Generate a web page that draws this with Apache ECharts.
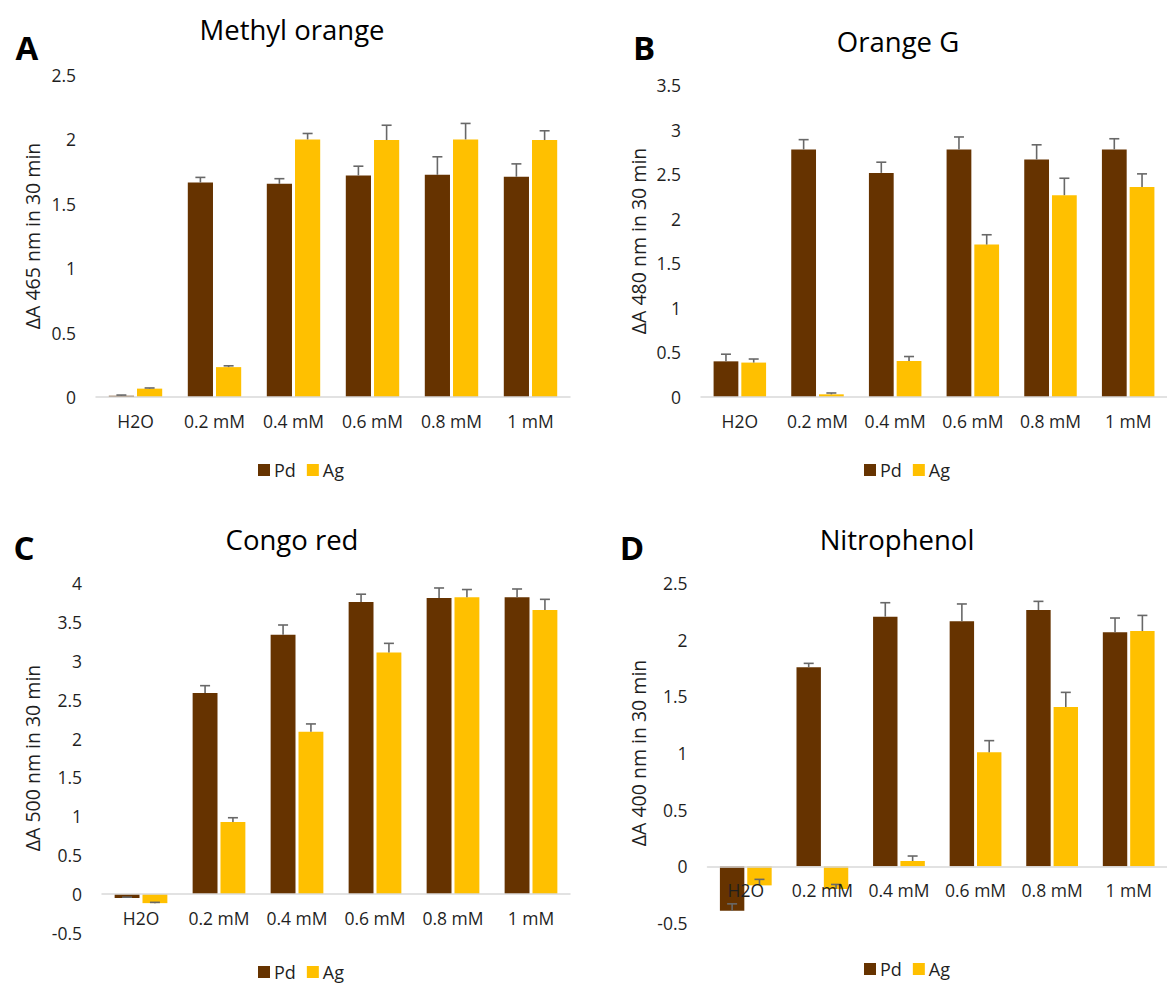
<!DOCTYPE html>
<html>
<head>
<meta charset="utf-8">
<script src="https://cdn.jsdelivr.net/npm/echarts@6/dist/echarts.min.js"></script>
<style>
html,body{margin:0;padding:0;background:#fff;}
#c{width:1167px;height:985px;}
</style>
</head>
<body>
<div id="c"></div>
<script>
// ---- data ----
const categories = ['H2O', '0.2 mM', '0.4 mM', '0.6 mM', '0.8 mM', '1 mM'];
const seriesNames = ['Pd', 'Ag'];

// A: Methyl orange
const moPd = [0.01, 1.665, 1.655, 1.72, 1.725, 1.71];
const moPdErr = [0.005, 0.04, 0.04, 0.072, 0.14, 0.10];
const moAg = [0.065, 0.232, 2.0, 1.995, 2.0, 1.995];
const moAgErr = [0.005, 0.01, 0.046, 0.115, 0.124, 0.072];

// B: Orange G
const ogPd = [0.40, 2.777, 2.514, 2.777, 2.664, 2.777];
const ogPdErr = [0.08, 0.11, 0.12, 0.14, 0.165, 0.12];
const ogAg = [0.386, 0.03, 0.404, 1.71, 2.264, 2.357];
const ogAgErr = [0.04, 0.015, 0.05, 0.11, 0.19, 0.146];

// C: Congo red
const crPd = [-0.05, 2.585, 3.335, 3.756, 3.807, 3.816];
const crPdErr = [0.01, 0.095, 0.125, 0.10, 0.129, 0.107];
const crAg = [-0.116, 0.926, 2.088, 3.108, 3.816, 3.653];
const crAgErr = [0.01, 0.056, 0.10, 0.116, 0.10, 0.137];

// D: Nitrophenol
const npPd = [-0.391, 1.756, 2.203, 2.162, 2.262, 2.065];
const npPdErr = [0.06, 0.035, 0.123, 0.153, 0.076, 0.126];
const npAg = [-0.168, -0.2, 0.047, 1.006, 1.406, 2.076];
const npAgErr = [0.053, 0.04, 0.044, 0.103, 0.129, 0.138];

const titles = ['Methyl orange', 'Orange G', 'Congo red', 'Nitrophenol'];
const letters = ['A', 'B', 'C', 'D'];
const yNames = ['ΔA 465 nm in 30 min', 'ΔA 480 nm in 30 min', 'ΔA 500 nm in 30 min', 'ΔA 400 nm in 30 min'];
const yMin = [0, 0, -0.5, -0.5];
const yMax = [2.5, 3.5, 4, 2.5];
const yStep = 0.5;

const panels = [
  {pd: moPd, pdE: moPdErr, ag: moAg, agE: moAgErr},
  {pd: ogPd, pdE: ogPdErr, ag: ogAg, agE: ogAgErr},
  {pd: crPd, pdE: crPdErr, ag: crAg, agE: crAgErr},
  {pd: npPd, pdE: npPdErr, ag: npAg, agE: npAgErr}
];

// ---- layout / style ----
const FONT = '"Open Sans", "DejaVu Sans", sans-serif';
const TXT = '#1f1f1f';
const colors = ['#663300', '#FFC000'];
const catGap = 0.324, barGap = 0.12;
const grids = [
  {left: 96, width: 474, top: 75, height: 322},
  {left: 701, width: 475, top: 85, height: 312},
  {left: 102, width: 468, top: 583, height: 350},
  {left: 707.5, width: 468.5, top: 583, height: 340}
];
const titlePos = [[292, 29], [898, 41], [292, 539], [897, 539]];
const letterPos = [[27, 47], [644, 47], [24, 547], [632, 547]];
const legendPos = [[253, 467], [859, 467], [253, 969], [859, 966]];
const nameGaps = [54, 53, 60, 59];

function errRender(seriesIdx) {
  return function (params, api) {
    const idx = api.value(0);
    const v = api.value(1);
    const e = api.value(2);
    const band = api.size([1, 0])[0];
    const w = band * (1 - catGap) / (2 + barGap);
    const total = 2 * w + w * barGap;
    const off = -total / 2 + w / 2 + seriesIdx * (w + w * barGap);
    const p0 = api.coord([idx, v]);
    const p1 = api.coord([idx, v + e]);
    const x = p0[0] + off;
    const style = {stroke: '#686868', lineWidth: 1.6};
    return {
      type: 'group',
      children: [
        {type: 'line', shape: {x1: x, y1: p0[1], x2: x, y2: p1[1]}, style: style},
        {type: 'line', shape: {x1: x - 5, y1: p1[1], x2: x + 5, y2: p1[1]}, style: style}
      ]
    };
  };
}

const option = {
  animation: false,
  backgroundColor: '#ffffff',
  textStyle: {fontFamily: FONT},
  graphic: letters.map((l, i) => ({
    type: 'text', x: letterPos[i][0], y: letterPos[i][1],
    style: {text: l, fontFamily: FONT, fontSize: 33, fontWeight: 'bold', fill: '#000',
      textAlign: 'center', textVerticalAlign: 'middle'}
  })).concat(titles.map((t, i) => ({
    type: 'text', x: titlePos[i][0], y: titlePos[i][1],
    style: {text: t, fontFamily: FONT, fontSize: 27.5, fontWeight: 'normal', fill: '#000',
      textAlign: 'center', textVerticalAlign: 'middle'}
  }))),
  legend: legendPos.map(p => ({
    data: seriesNames, left: p[0], top: p[1] - 11, itemWidth: 12, itemHeight: 12,
    itemGap: 11, icon: 'rect',
    textStyle: {fontFamily: FONT, fontSize: 18, color: TXT, padding: [0, 0, 0, -1]}
  })),
  grid: grids.map(g => Object.assign({containLabel: false}, g)),
  xAxis: grids.map((g, i) => ({
    type: 'category', gridIndex: i, data: categories, position: 'bottom', z: 6,
    offset: -g.height * (0 - yMin[i]) / (yMax[i] - yMin[i]),
    axisLine: {onZero: false, lineStyle: {color: '#d9d9d9', width: 1.5}},
    axisTick: {show: false},
    axisLabel: {fontFamily: FONT, fontSize: 17.5, color: TXT, margin: 15, interval: 0},
    splitLine: {show: false}
  })),
  yAxis: grids.map((g, i) => ({
    type: 'value', gridIndex: i, min: yMin[i], max: yMax[i], interval: yStep,
    name: yNames[i], nameLocation: 'middle', nameGap: nameGaps[i],
    nameTextStyle: {fontFamily: FONT, fontSize: 19.5, color: TXT},
    axisLine: {show: false}, axisTick: {show: false}, splitLine: {show: false},
    axisLabel: {fontFamily: FONT, fontSize: 17.5, color: TXT, margin: 20}
  })),
  series: []
};

panels.forEach((p, i) => {
  [p.pd, p.ag].forEach((vals, s) => {
    option.series.push({
      type: 'bar', name: seriesNames[s], xAxisIndex: i, yAxisIndex: i,
      data: vals, barCategoryGap: (catGap * 100) + '%', barGap: (barGap * 100) + '%',
      itemStyle: {color: colors[s]}, z: 2
    });
  });
  [[p.pd, p.pdE], [p.ag, p.agE]].forEach((pair, s) => {
    option.series.push({
      type: 'custom', name: seriesNames[s] + ' error', xAxisIndex: i, yAxisIndex: i,
      renderItem: errRender(s), encode: {x: 0, y: 1}, z: 5, silent: true,
      data: pair[0].map((v, k) => [k, v, pair[1][k]])
    });
  });
});

const chart = echarts.init(document.getElementById('c'), null, {renderer: 'svg'});
chart.setOption(option);
</script>
</body>
</html>
